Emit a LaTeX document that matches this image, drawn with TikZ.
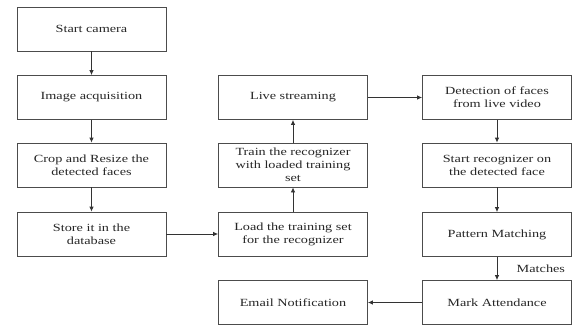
\documentclass[tikz,border=0pt]{standalone}
\usepackage{fontspec}
\setmainfont[FakeStretch=1.3]{Liberation Serif}
\usetikzlibrary{arrows.meta}

\begin{document}
\begin{tikzpicture}[x=1bp,y=-1bp,
  blk/.style={draw=black!70,line width=0.8bp,minimum width=149bp,minimum height=44bp,
    inner sep=1bp,align=center,text=black!85,font=\fontsize{11}{13}\selectfont},
  >={Latex[length=5bp,width=4.5bp]}]
\useasboundingbox (0,0) rectangle (572,325);

\node[blk] (cam) at (91.5,29) {Start camera};
\node[blk] (acq) at (91.5,97.5) {Image acquisition};
\node[blk] (crop) at (91.5,165) {Crop and Resize the\\detected faces};
\node[blk] (store) at (91.5,234) {Store it in the\\database};

\node[blk] (live) at (293,97.5) {Live streaming};
\node[blk] (train) at (293,165) {Train the recognizer\\with loaded training\\set};
\node[blk] (load) at (293,234) {Load the training set\\for the recognizer};
\node[blk] (email) at (293,302.5) {Email Notification};

\node[blk] (detect) at (497,97.5) {Detection of faces\\from live video};
\node[blk] (recog) at (497,165) {Start recognizer on\\the detected face};
\node[blk] (pattern) at (497,234.5) {Pattern Matching};
\node[blk] (mark) at (497,302.5) {Mark Attendance};

\draw[->,black!80,line width=0.8bp] (cam)--(acq);
\draw[->,black!80,line width=0.8bp] (acq)--(crop);
\draw[->,black!80,line width=0.8bp] (crop)--(store);
\draw[->,black!80,line width=0.8bp] (store)--(load);
\draw[->,black!80,line width=0.8bp] (load)--(train);
\draw[->,black!80,line width=0.8bp] (train)--(live);
\draw[->,black!80,line width=0.8bp] (live)--(detect);
\draw[->,black!80,line width=0.8bp] (detect)--(recog);
\draw[->,black!80,line width=0.8bp] (recog)--(pattern);
\draw[->,black!80,line width=0.8bp] (pattern)-- node[right=16bp,text=black!85,font=\fontsize{11}{13}\selectfont] (match) {Matches} (mark);
\draw[->,black!80,line width=0.8bp] (mark)--(email);
\end{tikzpicture}
\end{document}
